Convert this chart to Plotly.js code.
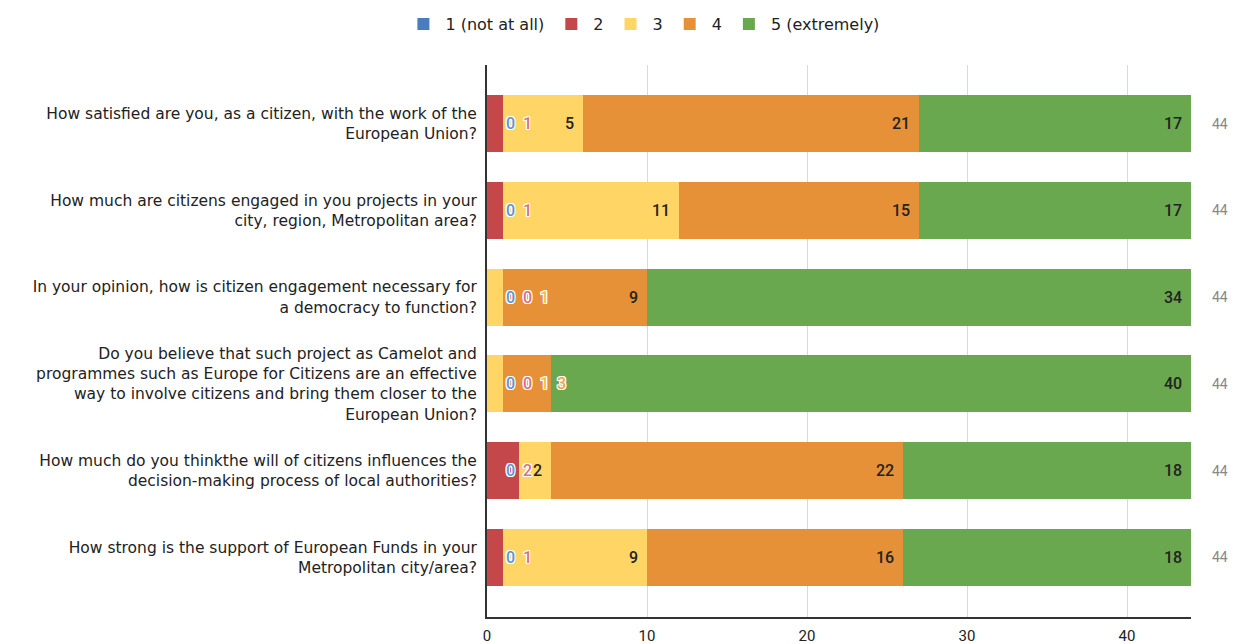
<!DOCTYPE html>
<html>
<head>
<meta charset="utf-8">
<script src="https://cdn.plot.ly/plotly-3.0.1.min.js"></script>
<style>html,body{margin:0;padding:0;background:#fff;}#chart{width:1234px;height:644px;}</style>
</head>
<body>
<div id="chart"></div>
<script>
const categories = [
  "How satisfied are you, as a citizen, with the work of the<br>European Union?",
  "How much are citizens engaged in you projects in your<br>city, region, Metropolitan area?",
  "In your opinion, how is citizen engagement necessary for<br>a democracy to function?",
  "Do you believe that such project as Camelot and<br>programmes such as Europe for Citizens are an effective<br>way to involve citizens and bring them closer to the<br>European Union?",
  "How much do you thinkthe will of citizens influences the<br>decision-making process of local authorities?",
  "How strong is the support of European Funds in your<br>Metropolitan city/area?"
];
const seriesNames = ["1 (not at all)", "2", "3", "4", "5 (extremely)"];
const s1 = [0, 0, 0, 0, 0, 0];
const s2 = [1, 1, 0, 0, 2, 1];
const s3 = [5, 11, 1, 1, 2, 9];
const s4 = [21, 15, 9, 3, 22, 16];
const s5 = [17, 17, 34, 40, 18, 18];
const seriesValues = [s1, s2, s3, s4, s5];
const colors = ["#4a7dc0", "#c4484a", "#ffd666", "#e69138", "#6aa84f"];
const labelColors = ["#5b95d8", "#d9707f", "#f1c232", "#f0a050", "#6aa84f"];

const margin = {l: 487, r: 43, t: 65, b: 27};
const W = 1234, H = 644;
const xMax = 44;
const pxPerUnit = (W - margin.l - margin.r) / xMax;

const traces = seriesValues.map((vals, i) => ({
  type: "bar",
  orientation: "h",
  name: seriesNames[i],
  y: categories,
  x: vals,
  marker: {color: colors[i], line: {width: 0}},
  hoverinfo: "skip"
}));

const annotations = [];
const haloShadow = "1px 0 0 #fff, -1px 0 0 #fff, 0 1px 0 #fff, 0 -1px 0 #fff, 1px 1px 0 #fff, -1px -1px 0 #fff, 1px -1px 0 #fff, -1px 1px 0 #fff";
categories.forEach((cat, c) => {
  let cum = 0;
  let outsideCount = 0;
  let occupiedRight = 0;
  seriesValues.forEach((vals, i) => {
    const v = vals[c];
    cum += v;
    const txt = String(v);
    const tw = 8 * txt.length;
    const endPx = cum * pxPerUnit;
    const segPx = v * pxPerUnit;
    if (segPx >= tw + 10 && endPx - 8 - tw >= occupiedRight + 2) {
      annotations.push({
        x: cum, y: cat, xref: "x", yref: "y", text: txt, showarrow: false,
        xanchor: "right", xshift: -7,
        font: {family: "Roboto, Arial, sans-serif", size: 16, color: "#222", weight: 500}
      });
      occupiedRight = endPx;
    } else {
      const centerPx = 23 + 17 * outsideCount;
      outsideCount++;
      annotations.push({
        x: 0, y: cat, xref: "x", yref: "y", text: txt, showarrow: false,
        xanchor: "center", xshift: centerPx,
        font: {family: "Roboto, Arial, sans-serif", size: 16, color: labelColors[i], shadow: haloShadow, weight: 500}
      });
      occupiedRight = centerPx + 5;
    }
  });
  annotations.push({
    x: cum, y: cat, xref: "x", yref: "y", text: String(cum), showarrow: false,
    xanchor: "left", xshift: 19,
    font: {family: "Roboto, Arial, sans-serif", size: 14, color: "#888"}
  });
});

const layout = {
  width: W, height: H,
  margin: margin,
  barmode: "stack",
  bargap: 0.343,
  paper_bgcolor: "#fff",
  plot_bgcolor: "#fff",
  showlegend: true,
  legend: {
    orientation: "h", xref: "container", yref: "container",
    x: 0.521, xanchor: "center", y: 1 - 24/644, yanchor: "middle",
    font: {family: "'DejaVu Sans', Arial, sans-serif", size: 16, color: "#222"},
    itemwidth: 34,
    traceorder: "normal"
  },
  xaxis: {
    range: [0, xMax],
    tickvals: [0, 10, 20, 30, 40],
    showgrid: true, gridcolor: "#d9d9d9", gridwidth: 1,
    zeroline: false,
    showline: true, linecolor: "#333", linewidth: 2,
    ticks: "", ticklabelstandoff: 4,
    tickfont: {family: "Roboto, Arial, sans-serif", size: 15, color: "#222"},
    fixedrange: true
  },
  yaxis: {
    type: "category",
    range: [5.686, -0.674],
    showgrid: false, zeroline: false,
    showline: true, linecolor: "#333", linewidth: 2,
    ticks: "", ticklabelstandoff: 5,
    tickfont: {family: "'DejaVu Sans', Arial, sans-serif", size: 15.5, color: "#222"},
    fixedrange: true
  },
  annotations: annotations
};

Plotly.newPlot("chart", traces, layout, {displayModeBar: false, staticPlot: true});
</script>
</body>
</html>
